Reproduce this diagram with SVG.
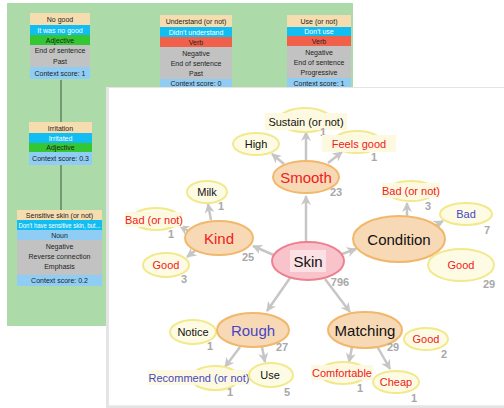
<svg xmlns="http://www.w3.org/2000/svg" width="504" height="408" viewBox="0 0 504 408">
  <defs>
    <style>
      .bt { font-family: "Liberation Sans", Arial, sans-serif; font-size: 7px; text-anchor: middle; fill: #222; }
      .bw { fill: #ffffff; }
      .title { fill: #f5ddb0; }
      .cyan { fill: #12bdf2; }
      .grn { fill: #33c733; }
      .red { fill: #f0604a; }
      .gray { fill: #c2c2c2; }
      .lb { fill: #8fcdf5; }
      .vline { stroke: #4f6f4f; stroke-width: 1.2; }
      .big { font-family: "Liberation Sans", Arial, sans-serif; font-size: 15px; text-anchor: middle; }
      .sm { font-family: "Liberation Sans", Arial, sans-serif; font-size: 11px; text-anchor: middle; }
      .num { font-family: "Liberation Sans", Arial, sans-serif; font-size: 11px; font-weight: bold; fill: #a8a8a8; text-anchor: middle; }
      .main { fill: #f8d9b6; stroke: #f1b86c; stroke-width: 2; }
      .leaf { fill: #fdfbe4; stroke: #f2e98c; stroke-width: 2; }
      .root { fill: #f9c3cc; stroke: #ee7f8e; stroke-width: 2; }
      .tag { fill: #fdf9e0; }
      .k { fill: #111; }
      .r { fill: #f02020; }
      .b { fill: #4646c4; }
      .edge { stroke: #c6c6c6; stroke-width: 2.5; fill: none; marker-end: url(#ah); }
    </style>
    <marker id="ah" viewBox="0 0 10 10" refX="9" refY="5" markerWidth="4" markerHeight="4" orient="auto" markerUnits="strokeWidth">
      <path d="M0,0 L10,5 L0,10 L3,5 Z" fill="#c6c6c6"/>
    </marker>
  </defs>

  <rect width="504" height="408" fill="#ffffff"/>

  <!-- green backdrop panel -->
  <rect x="7" y="3" width="346" height="323" fill="#acdaa9"/>

  <!-- vertical links between the left boxes -->
  <g id="box-links">
    <line class="vline" x1="61" y1="80" x2="61" y2="122"/>
    <line class="vline" x1="61" y1="165" x2="61" y2="211"/>
  </g>

  <g id="box-nogood">
    <rect class="title" x="30" y="13" width="60" height="12"/>
    <rect class="cyan" x="30" y="25" width="60" height="10"/>
    <rect class="grn" x="30" y="35" width="60" height="10"/>
    <rect class="gray" x="30" y="45" width="60" height="22"/>
    <rect class="lb" x="30" y="67" width="60" height="12"/>
    <text class="bt" x="60" y="22">No good</text>
    <text class="bt bw" x="60" y="32.5">It was no good</text>
    <text class="bt" x="60" y="42.5">Adjective</text>
    <text class="bt" x="60" y="53">End of sentence</text>
    <text class="bt" x="60" y="63.5">Past</text>
    <text class="bt" x="60" y="75.5">Context score: 1</text>
  </g>

  <g id="box-irritation">
    <rect class="title" x="29" y="122" width="63" height="11"/>
    <rect class="cyan" x="29" y="133" width="63" height="10"/>
    <rect class="grn" x="29" y="143" width="63" height="9"/>
    <rect class="lb" x="29" y="152" width="63" height="13"/>
    <text class="bt" x="60.5" y="130.5">Irritation</text>
    <text class="bt bw" x="60.5" y="140.5">Irritated</text>
    <text class="bt" x="60.5" y="150">Adjective</text>
    <text class="bt" x="60.5" y="161">Context score: 0.3</text>
  </g>

  <g id="box-sensitive">
    <rect class="title" x="17" y="210" width="85" height="10"/>
    <rect class="cyan" x="17" y="220" width="85" height="10"/>
    <rect class="lb" x="17" y="230" width="85" height="10"/>
    <rect class="gray" x="17" y="240" width="85" height="35"/>
    <rect class="lb" x="17" y="275" width="85" height="11"/>
    <text class="bt" x="59.5" y="217.5">Sensitive skin (or not)</text>
    <text class="bt bw" x="59.5" y="227.5" font-size="6.5" textLength="82" lengthAdjust="spacingAndGlyphs">Don't have sensitive skin, but...</text>
    <text class="bt" x="59.5" y="237.5">Noun</text>
    <text class="bt" x="59.5" y="249">Negative</text>
    <text class="bt" x="59.5" y="259">Reverse connection</text>
    <text class="bt" x="59.5" y="269">Emphasis</text>
    <text class="bt" x="59.5" y="283">Context score: 0.2</text>
  </g>

  <g id="box-understand">
    <rect class="title" x="160" y="15" width="72" height="12"/>
    <rect class="cyan" x="160" y="27" width="72" height="10"/>
    <rect class="red" x="160" y="37" width="72" height="10"/>
    <rect class="gray" x="160" y="47" width="72" height="32"/>
    <rect class="lb" x="160" y="79" width="72" height="9"/>
    <text class="bt" x="196" y="24">Understand (or not)</text>
    <text class="bt bw" x="196" y="34.5">Didn't understand</text>
    <text class="bt" x="196" y="44.5">Verb</text>
    <text class="bt" x="196" y="55.5">Negative</text>
    <text class="bt" x="196" y="65.5">End of sentence</text>
    <text class="bt" x="196" y="75.5">Past</text>
    <text class="bt" x="196" y="86">Context score: 0</text>
  </g>

  <g id="box-use">
    <rect class="title" x="287" y="15" width="64" height="12"/>
    <rect class="cyan" x="287" y="27" width="64" height="9"/>
    <rect class="red" x="287" y="36" width="64" height="10"/>
    <rect class="gray" x="287" y="46" width="64" height="32"/>
    <rect class="lb" x="287" y="78" width="64" height="10"/>
    <text class="bt" x="319" y="24">Use (or not)</text>
    <text class="bt bw" x="319" y="34">Don't use</text>
    <text class="bt" x="319" y="43.5">Verb</text>
    <text class="bt" x="319" y="54.5">Negative</text>
    <text class="bt" x="319" y="64.5">End of sentence</text>
    <text class="bt" x="319" y="74.5">Progressive</text>
    <text class="bt" x="319" y="85.5">Context score: 1</text>
  </g>

  <!-- white map panel with soft edge -->
  <rect x="106" y="87" width="398" height="321" fill="#e4e4e4"/>
  <rect x="109" y="88" width="395" height="317" fill="#ffffff"/>
  <line x1="109" y1="405.5" x2="504" y2="405.5" stroke="#ececec" stroke-width="1"/>

  <g id="connectors">
    <line class="edge" x1="306" y1="242" x2="306" y2="196"/>
    <line class="edge" x1="306" y1="160" x2="306" y2="132"/>
    <line class="edge" x1="284" y1="164" x2="272" y2="154"/>
    <line class="edge" x1="328" y1="163" x2="342" y2="152"/>
    <line class="edge" x1="276" y1="256" x2="253" y2="246"/>
    <line class="edge" x1="211" y1="220" x2="208" y2="204"/>
    <line class="edge" x1="190" y1="232" x2="180" y2="226"/>
    <line class="edge" x1="196" y1="250" x2="187" y2="257"/>
    <line class="edge" x1="342" y1="254" x2="356" y2="249"/>
    <line class="edge" x1="407" y1="216" x2="407" y2="203"/>
    <line class="edge" x1="436" y1="225" x2="443" y2="221"/>
    <line class="edge" x1="290" y1="278" x2="267" y2="311"/>
    <line class="edge" x1="325" y1="279" x2="350" y2="312"/>
    <line class="edge" x1="240" y1="347" x2="225" y2="367"/>
    <line class="edge" x1="262" y1="347" x2="265" y2="362"/>
    <line class="edge" x1="352" y1="347" x2="349" y2="362"/>
    <line class="edge" x1="377" y1="346" x2="390" y2="369"/>
  </g>

  <g id="n-sustain">
    <ellipse class="leaf" cx="305" cy="120" rx="26" ry="12"/>
    <rect class="tag" x="265" y="113" width="82" height="17"/>
    <text class="sm k" x="306" y="125.5">Sustain (or not)</text>
    <text class="num" x="323" y="136">1</text>
  </g>
  <g id="n-high">
    <ellipse class="leaf" cx="256" cy="144" rx="23" ry="11"/>
    <text class="sm k" x="256" y="148">High</text>
  </g>
  <g id="n-feelsgood">
    <ellipse class="leaf" cx="357" cy="142" rx="24" ry="11"/>
    <rect class="tag" x="322" y="135" width="74" height="17"/>
    <text class="sm r" x="359" y="147.5">Feels good</text>
    <text class="num" x="374" y="161">1</text>
  </g>
  <g id="n-smooth">
    <ellipse class="main" cx="306" cy="177" rx="33" ry="16"/>
    <text class="big r" x="306" y="182.5">Smooth</text>
    <text class="num" x="336" y="196">23</text>
  </g>
  <g id="n-milk">
    <ellipse class="leaf" cx="207" cy="192" rx="20" ry="11"/>
    <text class="sm k" x="207" y="196">Milk</text>
    <text class="num" x="221" y="210">1</text>
  </g>
  <g id="n-badornot-l">
    <ellipse class="leaf" cx="156" cy="219" rx="24" ry="11"/>
    <rect class="tag" x="125" y="212" width="58" height="15"/>
    <text class="sm r" x="154" y="223.5">Bad (or not)</text>
    <text class="num" x="171" y="238">1</text>
  </g>
  <g id="n-kind">
    <ellipse class="main" cx="219" cy="238" rx="34" ry="17"/>
    <text class="big r" x="219" y="243.5">Kind</text>
    <text class="num" x="248" y="261">25</text>
  </g>
  <g id="n-good-l">
    <ellipse class="leaf" cx="166" cy="265" rx="23" ry="12"/>
    <text class="sm r" x="166" y="269">Good</text>
    <text class="num" x="184" y="283">3</text>
  </g>
  <g id="n-badornot-r">
    <ellipse class="leaf" cx="411" cy="191" rx="24" ry="10"/>
    <rect class="tag" x="382" y="183" width="58" height="15"/>
    <text class="sm r" x="411" y="194.5">Bad (or not)</text>
    <text class="num" x="428" y="210">3</text>
  </g>
  <g id="n-bad">
    <ellipse class="leaf" cx="466" cy="214" rx="26" ry="11"/>
    <text class="sm b" x="466" y="218">Bad</text>
    <text class="num" x="487" y="234">7</text>
  </g>
  <g id="n-condition">
    <ellipse class="main" cx="399" cy="239" rx="46" ry="23"/>
    <text class="big k" x="399" y="244.5">Condition</text>
  </g>
  <g id="n-good-r">
    <ellipse class="leaf" cx="461" cy="265" rx="33" ry="16"/>
    <text class="sm r" x="461" y="269">Good</text>
    <text class="num" x="489" y="288">29</text>
  </g>
  <g id="n-skin">
    <ellipse class="root" cx="308" cy="261" rx="36" ry="19"/>
    <rect x="290" y="250" width="36" height="22" fill="#fbe0e4"/>
    <text class="big k" x="308" y="266.5">Skin</text>
    <text class="num" x="340" y="286">796</text>
  </g>
  <g id="n-notice">
    <ellipse class="leaf" cx="193" cy="332" rx="23" ry="12"/>
    <text class="sm k" x="193" y="336">Notice</text>
    <text class="num" x="210" y="350">1</text>
  </g>
  <g id="n-rough">
    <ellipse class="main" cx="253" cy="330" rx="36" ry="17"/>
    <text class="big b" x="253" y="335.5">Rough</text>
    <text class="num" x="282" y="351">27</text>
  </g>
  <g id="n-recommend">
    <ellipse class="leaf" cx="215" cy="378" rx="24" ry="12"/>
    <rect class="tag" x="148" y="370" width="102" height="15"/>
    <text class="sm b" x="199" y="381.5">Recommend (or not)</text>
    <text class="num" x="230" y="396">1</text>
  </g>
  <g id="n-use">
    <ellipse class="leaf" cx="271" cy="375" rx="22" ry="12"/>
    <text class="sm k" x="270" y="379">Use</text>
    <text class="num" x="287" y="396">5</text>
  </g>
  <g id="n-matching">
    <ellipse class="main" cx="365" cy="330" rx="37" ry="18"/>
    <text class="big k" x="365" y="335.5">Matching</text>
    <text class="num" x="393" y="351">29</text>
  </g>
  <g id="n-good-m">
    <ellipse class="leaf" cx="426" cy="339" rx="22" ry="11"/>
    <text class="sm r" x="426" y="343">Good</text>
    <text class="num" x="444" y="358">2</text>
  </g>
  <g id="n-comfortable">
    <ellipse class="leaf" cx="343" cy="373" rx="24" ry="11"/>
    <rect class="tag" x="311" y="365" width="62" height="15"/>
    <text class="sm r" x="342" y="376.5">Comfortable</text>
    <text class="num" x="360" y="392">1</text>
  </g>
  <g id="n-cheap">
    <ellipse class="leaf" cx="396" cy="382" rx="23" ry="11"/>
    <text class="sm r" x="396" y="386">Cheap</text>
    <text class="num" x="414" y="402">1</text>
  </g>
</svg>
